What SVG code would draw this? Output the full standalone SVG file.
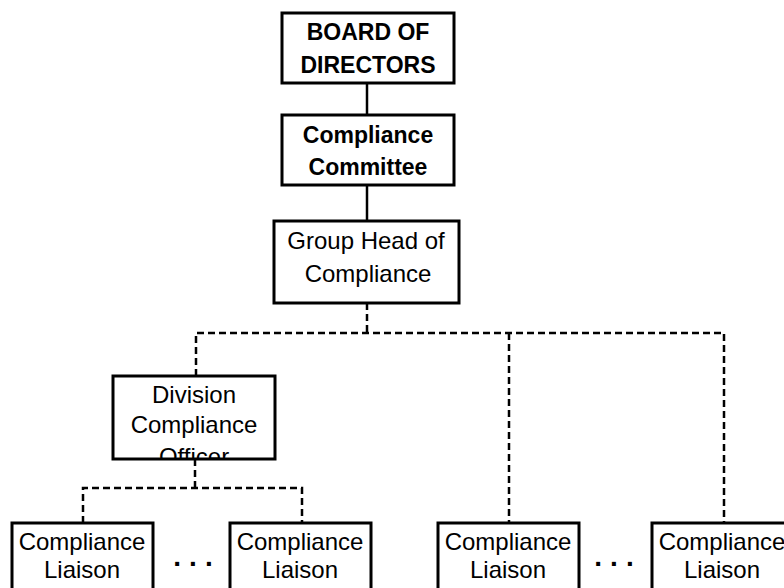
<svg xmlns="http://www.w3.org/2000/svg" width="784" height="588" viewBox="0 0 784 588">
<style>
.box{fill:#fff;stroke:#000;stroke-width:3}
.t{font-family:"Liberation Sans",Arial,sans-serif;font-size:24px;fill:#000;text-anchor:middle}
.b{font-weight:bold;font-size:23px}
.dots{font-family:"Liberation Sans",Arial,sans-serif;font-size:28px;font-weight:bold;fill:#000;text-anchor:middle;letter-spacing:8px}
.solid{fill:none;stroke:#000;stroke-width:2.5}
.dash{fill:none;stroke:#000;stroke-width:2.5;stroke-dasharray:7,4}
</style>
<defs>
<clipPath id="clipDiv"><rect x="114" y="377" width="160" height="81"/></clipPath>
</defs>
<rect width="784" height="588" fill="#fff"/>
<g id="connectors">
<line class="solid" x1="367" y1="83" x2="367" y2="115"/>
<line class="solid" x1="367" y1="185" x2="367" y2="221"/>
<polyline class="dash" points="367,303 367,333"/>
<polyline class="dash" points="196,376 196,333 724,333 724,523"/>
<line class="dash" x1="509" y1="333" x2="509" y2="523"/>
<polyline class="dash" points="195,459 195,488"/>
<polyline class="dash" points="83,523 83,488 302,488 302,523"/>
</g>
<g id="board">
<rect class="box" x="282" y="13" width="172" height="70"/>
<text class="t b" x="368" y="40">BOARD OF</text>
<text class="t b" x="368" y="73">DIRECTORS</text>
</g>
<g id="committee">
<rect class="box" x="282" y="115" width="172" height="70"/>
<text class="t b" x="368" y="143">Compliance</text>
<text class="t b" x="368" y="175">Committee</text>
</g>
<g id="grouphead">
<rect class="box" x="274" y="221" width="185" height="82"/>
<text class="t" x="366" y="249">Group Head of</text>
<text class="t" x="368" y="282">Compliance</text>
</g>
<g id="division">
<rect class="box" x="113" y="376" width="162" height="83"/>
<g clip-path="url(#clipDiv)">
<text class="t" x="194" y="403">Division</text>
<text class="t" x="194" y="433">Compliance</text>
<text class="t" x="194" y="465">Officer</text>
</g>
</g>
<g id="liaison1">
<rect class="box" x="12" y="523" width="141" height="80"/>
<text class="t" x="82" y="550">Compliance</text>
<text class="t" x="82" y="578">Liaison</text>
</g>
<g id="dots1"><text class="dots" x="197" y="566">...</text></g>
<g id="liaison2">
<rect class="box" x="230" y="523" width="141" height="80"/>
<text class="t" x="300" y="550">Compliance</text>
<text class="t" x="300" y="578">Liaison</text>
</g>
<g id="liaison3">
<rect class="box" x="438" y="523" width="141" height="80"/>
<text class="t" x="508" y="550">Compliance</text>
<text class="t" x="508" y="578">Liaison</text>
</g>
<g id="dots2"><text class="dots" x="618" y="566">...</text></g>
<g id="liaison4">
<rect class="box" x="652" y="523" width="141" height="80"/>
<text class="t" x="722" y="550">Compliance</text>
<text class="t" x="722" y="578">Liaison</text>
</g>
</svg>
